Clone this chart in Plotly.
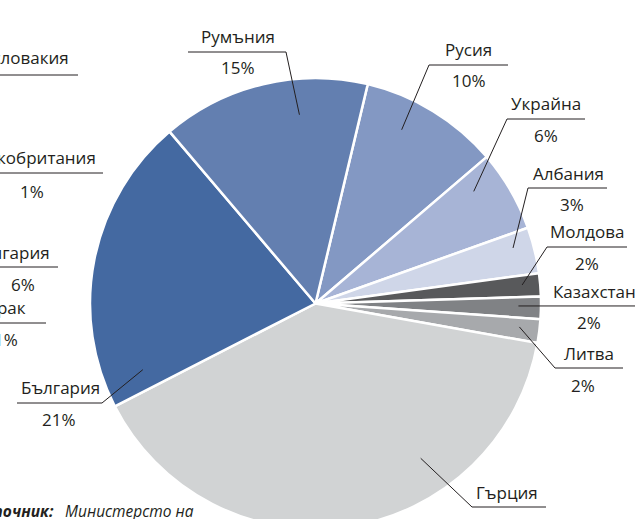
import math
import plotly.graph_objects as go

W, H = 635, 530   # the window shows the top 519 px; the pie runs off the bottom edge as in the reference

# ---- data ----
countries = ["Русия", "Украйна", "Албания", "Молдова", "Казахстан", "Литва", "Гърция", "България", "Румъния"]
shares = [10.0, 5.8, 3.3, 1.65, 1.6, 1.7, 39.6, 21.3, 14.9]
pct_labels = ["10%", "6%", "3%", "2%", "2%", "2%", "39%", "21%", "15%"]

# labels of the neighbouring (cropped) chart on the left
other_names = ["Чехословакия", "Великобритания", "Унгария", "Ирак"]
other_pcts = ["", "1%", "6%", "1%"]

source_bold = "Източник:"
source_text = "Министерсто на"

# ---- styles / layout ----
colors = ["#8398c3", "#a7b4d6", "#cfd6e8", "#58595b", "#808285", "#a7a9ac",
          "#d1d3d4", "#4469a1", "#637fb0"]
ROT = 13.4                       # first slice starts here (deg, clockwise from 12 o'clock)
CX, CY, R = 315.5, 303.5, 225.5  # pie centre / radius in px
TXT = "#231f20"
FONT = "Open Sans"
FS = 17
FS_SRC = 15.5

# label geometry (px): name centre, underline, pct centre, tip (position in slice, radius fraction)
label_pos = {
    "Русия":     dict(nx=468, ny=50,  lx0=429, lx1=508, ly=65,  px=469, py=81,  tp=0.36, tr=0.86, side="l"),
    "Украйна":   dict(nx=546, ny=104, lx0=507, lx1=585, ly=119, px=546, py=136, tp=0.25, tr=0.86, side="l"),
    "Албания":   dict(nx=568, ny=173, lx0=528, lx1=607, ly=188, px=572, py=204, tp=0.33, tr=0.91, side="l"),
    "Молдова":   dict(nx=587, ny=231, lx0=547, lx1=627, ly=247, px=587, py=263, tp=0.44, tr=0.92, side="l"),
    "Казахстан": dict(nx=594, ny=291, lx0=None, lx1=636, ly=None, px=589, py=322, tp=0.43, tr=0.90, side="l"),
    "Литва":     dict(nx=589, ny=353, lx0=555, lx1=623, ly=368, px=583, py=385, tp=0.42, tr=0.91, side="l"),
    "Гърция":    dict(nx=507, ny=492, lx0=472, lx1=546, ly=507, px=507, py=527, tp=0.32, tr=0.83, side="l"),
    "България":  dict(nx=60,  ny=387, lx0=17,  lx1=102, ly=403, px=59,  py=419, tp=0.08, tr=0.82, side="r"),
    "Румъния":   dict(nx=238, ny=37,  lx0=188, lx1=286, ly=52,  px=238, py=68,  tp=0.66, tr=0.84, side="r"),
}
other_pos = [
    dict(nr=71, ny=58,  lx1=78,  ly=75,  px=None, py=None),
    dict(nr=98, ny=158, lx1=103, ly=173, px=32,   py=191),
    dict(nr=52, ny=252, lx1=58,  ly=267, px=23,   py=284),
    dict(nr=28, ny=307, lx1=46,  ly=323, px=6,    py=339),
]


def fx(x):
    return x / W


def fy(y):
    return 1 - y / H


fig = go.Figure(go.Pie(
    labels=countries, values=shares, sort=False, direction="clockwise",
    rotation=ROT, textinfo="none", hoverinfo="skip",
    marker=dict(colors=colors, line=dict(color="white", width=2.5)),
    domain=dict(x=[fx(CX - R), fx(CX + R)], y=[fy(CY + R), fy(CY - R)]),
    showlegend=False,
))

annotations = []
shapes = []
total = sum(shares)
cum = 0.0
for name, val, pct in zip(countries, shares, pct_labels):
    p = label_pos[name]
    theta = math.radians(ROT + (cum + p["tp"] * val) / total * 360)
    tx = CX + p["tr"] * R * math.sin(theta)
    ty = CY - p["tr"] * R * math.cos(theta)
    cum += val
    lx0 = p["lx0"] if p["lx0"] is not None else tx
    ly = p["ly"] if p["ly"] is not None else ty
    lx1 = p["lx1"]
    shapes.append(dict(type="line", xref="paper", yref="paper", x0=fx(lx0), x1=fx(lx1),
                       y0=fy(ly), y1=fy(ly), line=dict(color=TXT, width=1)))
    ax = lx0 if p["side"] == "l" else lx1
    shapes.append(dict(type="line", xref="paper", yref="paper", x0=fx(ax), x1=fx(tx),
                       y0=fy(ly), y1=fy(ty), line=dict(color=TXT, width=1)))
    annotations.append(dict(text=name, x=fx(p["nx"]), y=fy(p["ny"]), xref="paper", yref="paper",
                            xanchor="center", yanchor="middle", showarrow=False,
                            font=dict(family=FONT, size=FS, color=TXT)))
    annotations.append(dict(text=pct, x=fx(p["px"]), y=fy(p["py"]), xref="paper", yref="paper",
                            xanchor="center", yanchor="middle", showarrow=False,
                            font=dict(family=FONT, size=FS, color=TXT)))

for name, pct, p in zip(other_names, other_pcts, other_pos):
    annotations.append(dict(text=name, x=fx(p["nr"]), y=fy(p["ny"]), xref="paper", yref="paper",
                            xanchor="right", yanchor="middle", showarrow=False,
                            font=dict(family=FONT, size=FS, color=TXT)))
    shapes.append(dict(type="line", xref="paper", yref="paper", x0=-0.1, x1=fx(p["lx1"]),
                       y0=fy(p["ly"]), y1=fy(p["ly"]), line=dict(color=TXT, width=1)))
    if pct:
        annotations.append(dict(text=pct, x=fx(p["px"]), y=fy(p["py"]), xref="paper", yref="paper",
                                xanchor="center", yanchor="middle", showarrow=False,
                                font=dict(family=FONT, size=FS, color=TXT)))

annotations.append(dict(text="<b><i>" + source_bold + "</i></b>", x=fx(56), y=fy(511),
                        xref="paper", yref="paper", xanchor="right", yanchor="middle",
                        showarrow=False, font=dict(family=FONT, size=FS_SRC, color=TXT)))
annotations.append(dict(text="<i>" + source_text + "</i>", x=fx(63), y=fy(511),
                        xref="paper", yref="paper", xanchor="left", yanchor="middle",
                        showarrow=False, font=dict(family=FONT, size=FS_SRC, color=TXT)))

fig.update_layout(
    width=W, height=H, margin=dict(l=0, r=0, t=0, b=0),
    paper_bgcolor="white", plot_bgcolor="white",
    annotations=annotations, shapes=shapes,
)

fig.write_html("out.html", config={"displayModeBar": False},
               post_script="document.body.style.margin='0';document.body.style.overflow='hidden';")
